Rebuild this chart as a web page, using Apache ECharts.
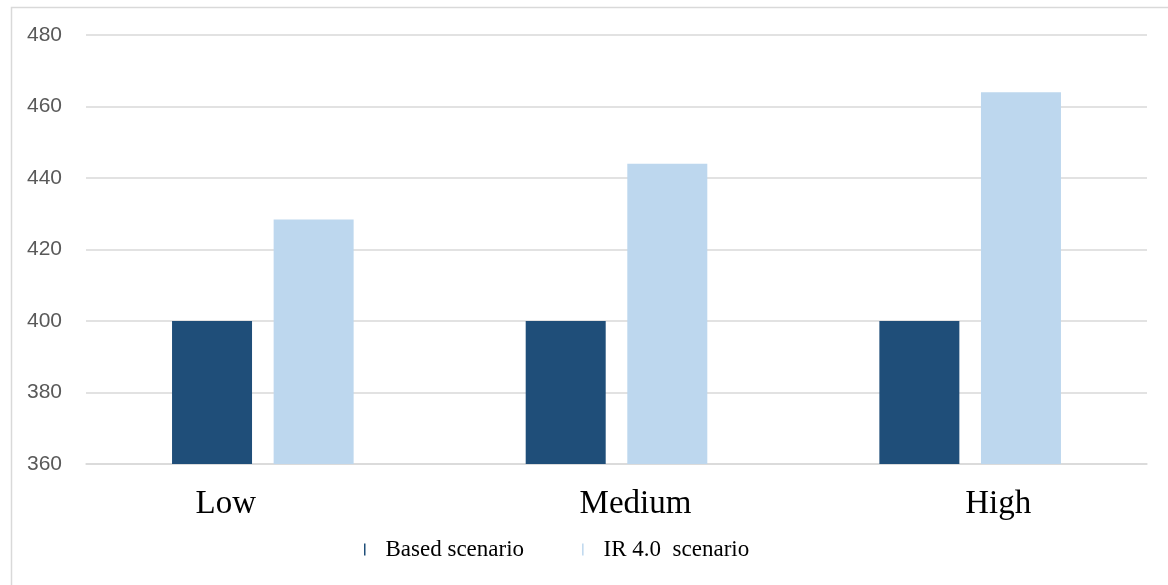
<!DOCTYPE html>
<html>
<head>
<meta charset="utf-8">
<script src="https://cdn.jsdelivr.net/npm/echarts@6/dist/echarts.min.js"></script>
<style>
  html, body { margin: 0; padding: 0; background: #ffffff; }
  #chart { width: 1168px; height: 585px; }
</style>
</head>
<body>
<div id="chart"></div>
<script>
// Scenario categories and series values
const categories = ['Low', 'Medium', 'High'];
const basedScenario = [400, 400, 400];
const ir40Scenario = [428.4, 444, 464];
const seriesNames = ['Based scenario', 'IR 4.0  scenario'];

const chart = echarts.init(document.getElementById('chart'));

// per-category label styles (label boxes are placed a bit off-centre)
const labelKeys = ['l', 'm', 'h'];

const option = {
  animation: false,
  backgroundColor: '#ffffff',
  graphic: [{
    type: 'rect',
    left: 9, top: 5,
    shape: { x: 0, y: 0, width: 1180, height: 600 },
    style: { fill: 'none', stroke: '#d9d9d9', lineWidth: 1.5 },
    silent: true
  }],
  grid: { left: 86, right: 21, top: 35, bottom: 121, containLabel: false },
  legend: {
    data: seriesNames,
    left: 359,
    top: 533,
    icon: 'rect',
    itemWidth: 1.5,
    itemHeight: 12,
    itemGap: 58,
    textStyle: {
      fontFamily: 'Liberation Serif',
      fontSize: 23,
      color: '#000000',
      padding: [0, 0, 0, 15]
    }
  },
  xAxis: {
    type: 'category',
    data: categories,
    axisTick: { show: false },
    axisLine: { lineStyle: { color: '#d9d9d9', width: 1.5 } },
    axisLabel: {
      margin: 24,
      fontFamily: 'Liberation Serif',
      fontSize: 33,
      color: '#000000',
      formatter: function (v, i) { return '{' + labelKeys[i] + '|' + v + '}'; },
      rich: {
        l: { fontFamily: 'Liberation Serif', fontSize: 33, color: '#000', padding: [0, 74, 0, 0] },
        m: { fontFamily: 'Liberation Serif', fontSize: 33, color: '#000', padding: [0, 0, 0, 38] },
        h: { fontFamily: 'Liberation Serif', fontSize: 33, color: '#000', padding: [0, 0, 0, 56] }
      }
    }
  },
  yAxis: {
    type: 'value',
    min: 360,
    max: 480,
    interval: 20,
    axisLine: { show: false },
    axisTick: { show: false },
    axisLabel: {
      margin: 24,
      fontFamily: 'Liberation Sans',
      fontSize: 21,
      color: '#595959'
    },
    splitLine: { lineStyle: { color: '#d9d9d9', width: 1.5 } }
  },
  series: [
    {
      name: seriesNames[0],
      type: 'bar',
      data: basedScenario,
      barWidth: 80,
      barGap: '27%',
      itemStyle: { color: '#1f4e79' }
    },
    {
      name: seriesNames[1],
      type: 'bar',
      data: ir40Scenario,
      barWidth: 80,
      itemStyle: { color: '#bdd7ee' }
    }
  ]
};

chart.setOption(option);
</script>
</body>
</html>
